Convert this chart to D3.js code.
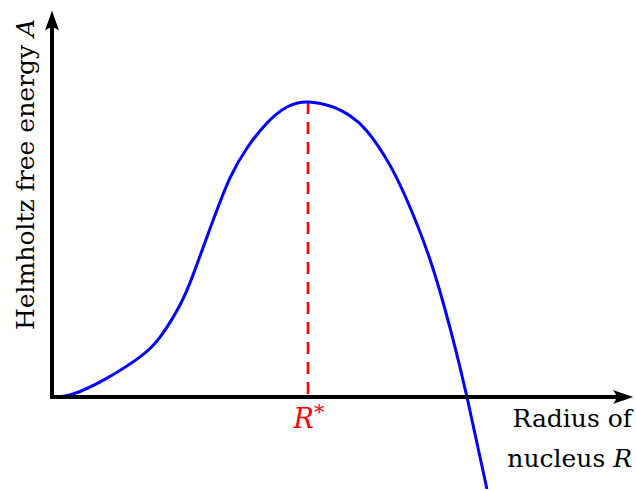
<!DOCTYPE html>
<html>
<head>
<meta charset="utf-8">
<script src="https://cdn.jsdelivr.net/npm/d3@7"></script>
<style>
  html, body { margin: 0; padding: 0; background: #fff; }
  svg { display: block; }
  text { font-family: "DejaVu Serif", serif; }
</style>
</head>
<body>
<svg id="chart" width="636" height="490"></svg>
<script>
// Nucleus radius R (in units of the critical radius R*) and free energy A
// (in units of the barrier height at R*), sampled along the curve.
const radius = [0, 0.082, 0.215, 0.344, 0.422, 0.5, 0.551, 0.598, 0.637, 0.695,
                0.762, 0.84, 0.918, 1, 1.098, 1.164, 1.23, 1.32, 1.398, 1.465,
                1.516, 1.563, 1.621, 1.699];
const energy = [0, 0.01, 0.064, 0.136, 0.203, 0.312, 0.414, 0.525, 0.617, 0.742,
                0.844, 0.929, 0.983, 1, 0.983, 0.953, 0.902, 0.786, 0.644, 0.495,
                0.356, 0.207, 0, -0.312];
const criticalRadius = 1;
const criticalEnergy = 1;
const xLabelLines = ["Radius of", "nucleus "];
const xLabelSymbol = "R";
const yLabelText = "Helmholtz free energy ";
const yLabelSymbol = "A";
const criticalLabel = "R";

const svg = d3.select("#chart");

// Axis origin at (52, 397); one unit of R spans 256px, one unit of A spans 295px
const x = d3.scaleLinear().domain([0, 1]).range([52, 308]);
const y = d3.scaleLinear().domain([0, 1]).range([397, 102]);
const xEnd = 2.27;   // R at the arrow tip
const yEnd = 1.31;   // A at the arrow tip

// Arrow head used on both axes; its tip sits 10px past the line end
const defs = svg.append("defs");
defs.append("marker")
  .attr("id", "arrow")
  .attr("viewBox", "-21 -8 22 16")
  .attr("refX", -10).attr("refY", 0)
  .attr("markerUnits", "userSpaceOnUse")
  .attr("markerWidth", 22).attr("markerHeight", 16)
  .attr("orient", "auto")
  .append("path")
  .attr("d", "M0,0 C-6,-2 -14,-5 -20,-7 Q-14,0 -20,7 C-14,5 -6,2 0,0 Z")
  .attr("fill", "#000");

const pts = radius.map((r, i) => [r, energy[i]]);
const line = d3.line()
  .x(d => x(d[0]))
  .y(d => y(d[1]))
  .curve(d3.curveNatural);

// Dashed marker at the critical radius
svg.append("line")
  .attr("x1", x(criticalRadius)).attr("x2", x(criticalRadius))
  .attr("y1", y(criticalEnergy)).attr("y2", y(0))
  .attr("stroke", "#ff0000")
  .attr("stroke-width", 2.6)
  .attr("stroke-dasharray", "12,8");

// Free energy curve
svg.append("path")
  .datum(pts)
  .attr("d", line)
  .attr("fill", "none")
  .attr("stroke", "#0000ff")
  .attr("stroke-width", 3);

// Axes
svg.append("line")
  .attr("x1", x(0) - 2).attr("x2", x(xEnd) - 10)
  .attr("y1", y(0)).attr("y2", y(0))
  .attr("stroke", "#000").attr("stroke-width", 4)
  .attr("marker-end", "url(#arrow)");
svg.append("line")
  .attr("x1", x(0)).attr("x2", x(0))
  .attr("y1", y(0) + 2).attr("y2", y(yEnd) + 10)
  .attr("stroke", "#000").attr("stroke-width", 4)
  .attr("marker-end", "url(#arrow)");

const fs = 25;

// R* label under the axis
const rl = svg.append("text")
  .attr("x", x(criticalRadius) + 1)
  .attr("y", 428)
  .attr("text-anchor", "middle")
  .attr("fill", "#ff0000")
  .attr("font-size", 27);
rl.append("tspan").attr("font-style", "italic").text(criticalLabel);
rl.append("tspan").attr("dy", -9).attr("font-size", 21).text("*");

// Horizontal axis label, right aligned at the arrow tip
svg.append("text")
  .attr("x", 632).attr("y", 427)
  .attr("text-anchor", "end")
  .attr("font-size", fs)
  .text(xLabelLines[0]);
const xl2 = svg.append("text")
  .attr("x", 632).attr("y", 467)
  .attr("text-anchor", "end")
  .attr("font-size", fs);
xl2.append("tspan").text(xLabelLines[1]);
xl2.append("tspan").attr("font-style", "italic").text(xLabelSymbol);

// Vertical axis label
const yl = svg.append("text")
  .attr("transform", "translate(34,330) rotate(-90)")
  .attr("text-anchor", "start")
  .attr("font-size", fs);
yl.append("tspan").text(yLabelText);
yl.append("tspan").attr("font-style", "italic").text(yLabelSymbol);
</script>
</body>
</html>
